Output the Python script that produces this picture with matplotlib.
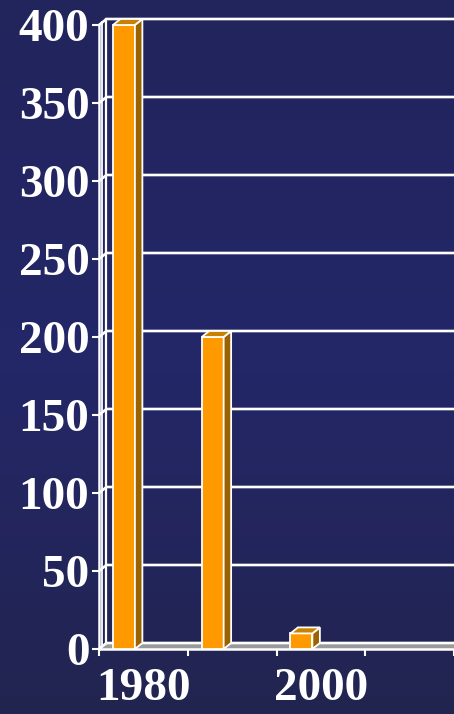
import matplotlib
matplotlib.use("Agg")
import matplotlib.pyplot as plt
from matplotlib.patches import Polygon
import numpy as np

# ---- data ----
categories = ["1980", "1990", "2000", "2010"]
shown_labels = ["1980", "", "2000", ""]
values = [400, 200, 10]
yticks = [0, 50, 100, 150, 200, 250, 300, 350, 400]

# ---- layout (pixels) ----
W, H, DPI = 454, 714, 100
ax_left_px, y0_px, y400_px = 99, 649, 25
cat_px = 89.0
ppy = (y0_px - y400_px) / 400.0
xmin = -0.5
xmax = xmin + (W - ax_left_px) / cat_px
dx = 7.5 / cat_px          # depth in category units
dy = 6.0 / ppy             # depth in value units

fig = plt.figure(figsize=(W / DPI, H / DPI), dpi=DPI)

# background gradient
bg = fig.add_axes([0, 0, 1, 1], zorder=-10)
yy, xx = np.mgrid[0:1:200j, 0:1:200j]
c_top = np.array([0x22, 0x24, 0x5c]) / 255
c_mid = np.array([0x24, 0x27, 0x68]) / 255
c_bot = np.array([0x22, 0x24, 0x50]) / 255
t = yy[..., None]
img = np.where(t < 0.5, c_top + (c_mid - c_top) * (t / 0.5), c_mid + (c_bot - c_mid) * ((t - 0.5) / 0.5))
bg.imshow(np.clip(img, 0, 1), aspect="auto", extent=[0, 1, 0, 1], origin="upper")
bg.axis("off")

ax = fig.add_axes([ax_left_px / W, (H - y0_px) / H, (W - ax_left_px) / W, (y0_px - y400_px) / H])
ax.set_facecolor("none")
ax.set_xlim(xmin, xmax)
ax.set_ylim(0, 400)

white = "white"
orange = "#FF9900"
side = "#9A6200"
top = "#C98200"
gray = "#9a9a9a"

# floor
floor = Polygon([(xmin, 0), (xmin + dx, dy), (xmax + 1, dy), (xmax + 1, 0)], closed=True,
                facecolor=gray, edgecolor="none", clip_on=False, zorder=1)
ax.add_patch(floor)
ax.plot([xmin, xmax + 1], [0, 0], color=white, lw=1.8, clip_on=False, zorder=2, solid_capstyle="butt")

# gridlines on back wall with diagonal across the side wall
for v in yticks:
    ax.plot([xmin, xmin + dx, xmax + 1], [v, v + dy, v + dy], color=white, lw=1.9,
            clip_on=False, zorder=2, solid_joinstyle="miter")

# side wall verticals
ax.plot([xmin + 3.5 / cat_px] * 2, [0 + dy * 0.45, 400 + dy * 0.45], color=white, lw=1.3, clip_on=False, zorder=2)
ax.plot([xmin + dx] * 2, [dy, 400 + dy], color=white, lw=1.6, clip_on=False, zorder=2)

# bars
bar_w = 22.0 / cat_px
bar_off = -0.5 + 14.0 / cat_px
for i, v in enumerate(values):
    l = i + bar_off
    r = l + bar_w
    ax.bar(l, v, width=bar_w, align="edge", color=orange, edgecolor=white, lw=1.3,
           zorder=5, clip_on=False)
    ax.add_patch(Polygon([(r, 0), (r + dx, dy), (r + dx, v + dy), (r, v)], closed=True,
                         facecolor=side, edgecolor=white, lw=1.3, clip_on=False, zorder=5))
    ax.add_patch(Polygon([(l, v), (l + dx, v + dy), (r + dx, v + dy), (r, v)], closed=True,
                         facecolor=top, edgecolor=white, lw=1.3, clip_on=False, zorder=6))

# axes / ticks
for s in ["top", "right", "bottom"]:
    ax.spines[s].set_visible(False)
ax.spines["left"].set_color(white)
ax.spines["left"].set_linewidth(1.8)
ax.spines["left"].set_zorder(3)

font = "Liberation Serif"
ax.set_yticks(yticks)
ax.set_yticklabels([str(v) for v in yticks], fontfamily=font, fontweight="bold", fontsize=34, color=white)
ax.tick_params(axis="y", direction="out", length=5, width=1.5, color=white, pad=2)

ax.set_xticks([i - 0.5 for i in range(len(categories) + 1)])
ax.set_xticklabels([""] * (len(categories) + 1))
ax.set_xticks(list(range(len(categories))), minor=True)
ax.set_xticklabels(shown_labels, minor=True, fontfamily=font, fontweight="bold", fontsize=34, color=white)
ax.tick_params(axis="x", which="major", direction="out", length=5, width=1.5, color=white)
ax.tick_params(axis="x", which="minor", length=0, pad=14)

fig.savefig("out.png", dpi=DPI)
